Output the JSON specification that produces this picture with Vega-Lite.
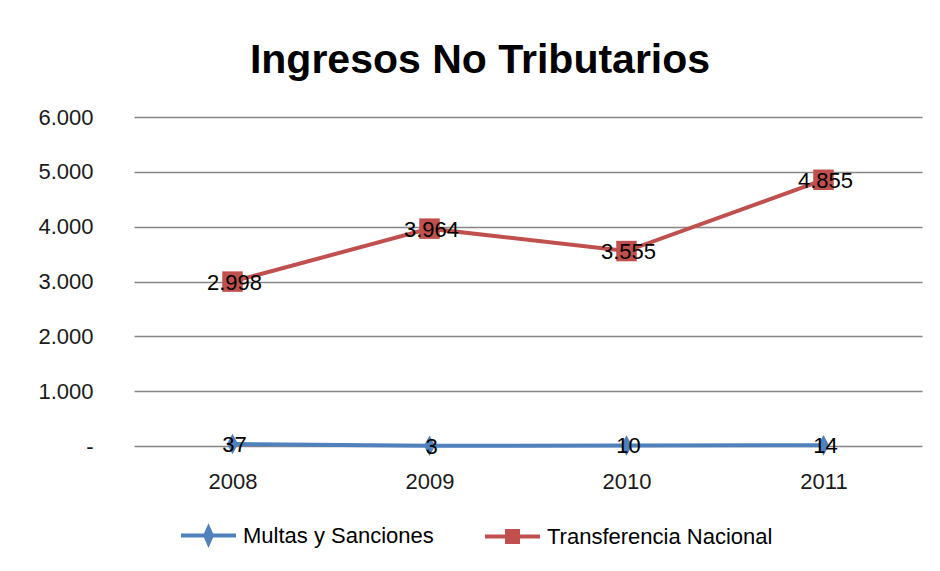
{
  "$schema": "https://vega.github.io/schema/vega-lite/v6.json",
  "autosize": "none",
  "width": 788,
  "height": 329,
  "padding": {"left": 134, "top": 117, "right": 18, "bottom": 125},
  "background": "white",
  "title": {
    "text": "Ingresos No Tributarios",
    "font": "Liberation Sans",
    "fontWeight": "bold",
    "fontSize": 41,
    "color": "#000000",
    "anchor": "middle",
    "baseline": "alphabetic",
    "dx": -48,
    "offset": -8
  },
  "config": {
    "view": {"stroke": null},
    "locale": {"number": {"decimal": ",", "thousands": ".", "grouping": [3], "currency": ["$", ""]}},
    "axis": {"labelFont": "Liberation Sans", "labelFontSize": 22, "labelColor": "#1a1a1a"}
  },
  "data": {
    "values": [
      {"year": "2008", "series": "Multas y Sanciones", "value": 37},
      {"year": "2009", "series": "Multas y Sanciones", "value": 3},
      {"year": "2010", "series": "Multas y Sanciones", "value": 10},
      {"year": "2011", "series": "Multas y Sanciones", "value": 14},
      {"year": "2008", "series": "Transferencia Nacional", "value": 2998},
      {"year": "2009", "series": "Transferencia Nacional", "value": 3964},
      {"year": "2010", "series": "Transferencia Nacional", "value": 3555},
      {"year": "2011", "series": "Transferencia Nacional", "value": 4855}
    ]
  },
  "encoding": {
    "x": {
      "field": "year",
      "type": "ordinal",
      "scale": {"type": "point", "padding": 0.5},
      "axis": {"title": null, "labelAngle": 0, "ticks": false, "domain": false, "labelPadding": 25, "grid": false}
    },
    "y": {
      "field": "value",
      "type": "quantitative",
      "scale": {"domain": [0, 6000]},
      "axis": {
        "title": null,
        "values": [0, 1000, 2000, 3000, 4000, 5000, 6000],
        "ticks": false,
        "domain": false,
        "grid": true,
        "gridColor": "#868686",
        "gridWidth": 1.3,
        "labelPadding": 41,
        "labelExpr": "datum.value == 0 ? '-' : datum.label",
        "format": ",.0f",
        "encode": {"labels": {"update": {"dx": {"signal": "datum.value == 0 ? -13 : 0"}}}}
      }
    }
  },
  "layer": [
    {
      "mark": {"type": "line", "strokeWidth": 4},
      "encoding": {
        "color": {
          "field": "series",
          "type": "nominal",
          "scale": {"domain": ["Multas y Sanciones", "Transferencia Nacional"], "range": ["#4F81BD", "#C0504D"]},
          "legend": {
            "title": null,
            "orient": "none",
            "direction": "horizontal",
            "legendX": 45,
            "legendY": 389,
            "padding": 0,
            "labelFont": "Liberation Sans",
            "labelFontSize": 22,
            "labelColor": "#000000",
            "labelLimit": 0,
            "labelOffset": 5,
            "columnPadding": 43,
            "symbolSize": 3025,
            "symbolStrokeWidth": 4,
            "encode": {
              "symbols": {
                "update": {
                  "shape": {"signal": "datum.value == 'Multas y Sanciones' ? 'M-1,0L1,0M0,-0.27L0.12,0L0,0.27L-0.12,0Z' : 'M-1,0L1,0M-0.2,-0.2L0.2,-0.2L0.2,0.2L-0.2,0.2Z'"},
                  "fill": {"signal": "datum.value == 'Multas y Sanciones' ? '#4F81BD' : '#C0504D'"},
                  "stroke": {"signal": "datum.value == 'Multas y Sanciones' ? '#4F81BD' : '#C0504D'"},
                  "strokeWidth": {"value": 4},
                  "size": {"value": 3025},
                  "opacity": {"value": 1},
                  "fillOpacity": {"value": 1}
                }
              }
            }
          }
        }
      }
    },
    {
      "transform": [{"filter": "datum.series == 'Multas y Sanciones'"}],
      "mark": {"type": "point", "filled": true, "opacity": 1, "size": 420, "shape": "M0,-1L0.55,0L0,1L-0.55,0Z", "color": "#4F81BD"}
    },
    {
      "transform": [{"filter": "datum.series == 'Transferencia Nacional'"}],
      "mark": {"type": "point", "filled": true, "opacity": 1, "size": 420, "shape": "square", "color": "#C0504D"}
    },
    {
      "mark": {"type": "text", "font": "Liberation Sans", "fontSize": 22, "color": "#000000", "baseline": "middle", "align": "center", "dx": 2, "dy": 1},
      "encoding": {
        "text": {"field": "value", "type": "quantitative", "format": ",.0f"}
      }
    }
  ]
}
